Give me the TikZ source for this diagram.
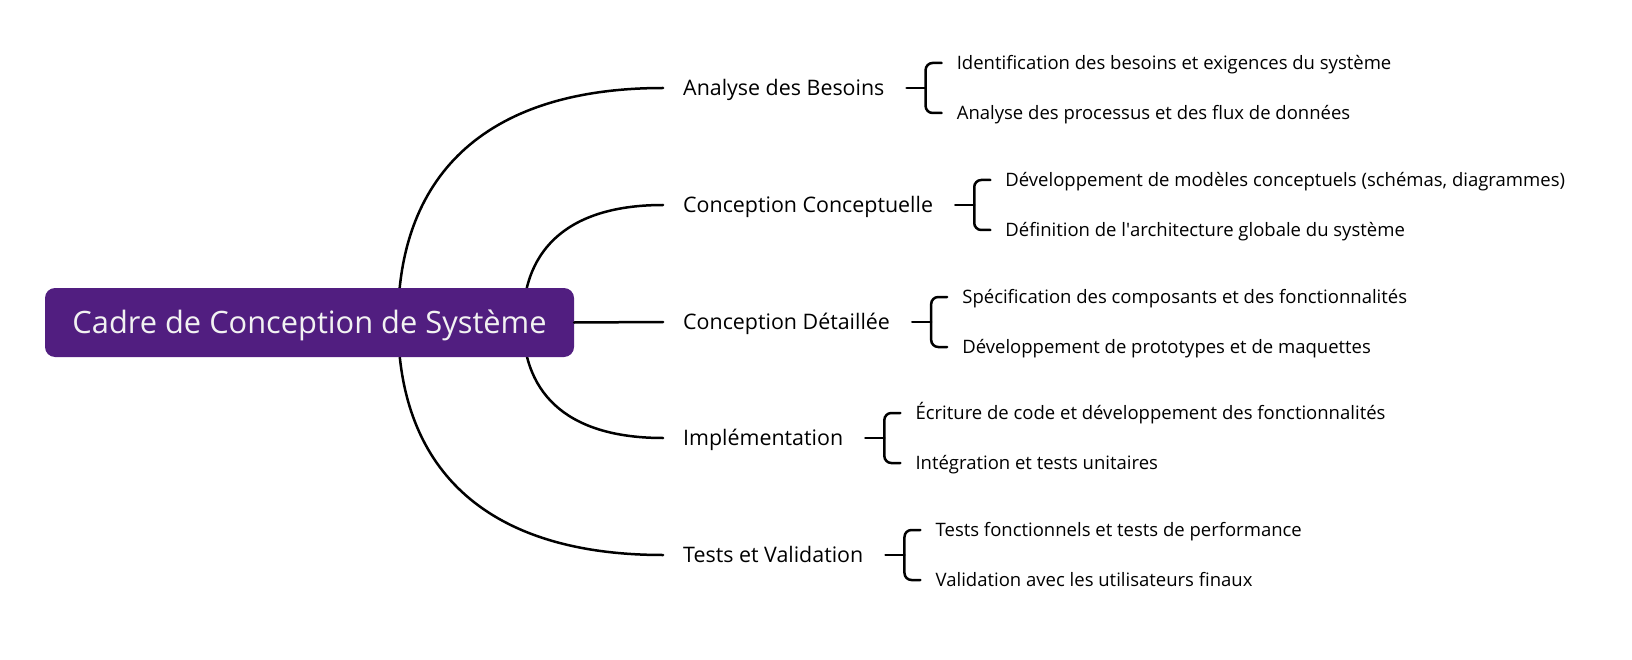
\documentclass[tikz,border=0pt]{standalone}
\usepackage{fontspec}
\setmainfont{Open Sans}
\usetikzlibrary{positioning}
\definecolor{rootpurple}{RGB}{81,30,128}

\begin{document}
\begin{tikzpicture}[x=1pt,y=-1pt,
  rootbox/.style={fill=rootpurple,text=white!95!black,rounded corners=10pt,
    minimum width=529pt,minimum height=69pt,inner sep=0pt,
    text height=22pt,text depth=0pt,
    font=\fontsize{30.8}{36}\selectfont},
  topic/.style={anchor=west,inner sep=0pt,text height=15.3pt,text depth=0pt,
    font=\fontsize{21.4}{26}\selectfont},
  leaf/.style={anchor=west,inner sep=0pt,text height=13.2pt,text depth=0pt,
    font=\fontsize{18.5}{22}\selectfont},
  link/.style={line width=2.5pt,line cap=round},
  bracket/.style={link,rounded corners=7pt},
]
\useasboundingbox (0,0) rectangle (1632,660);

% main topics
\node[topic] (analyse) at (683,88) {Analyse des Besoins};
\node[topic] (concept) at (683,205) {Conception Conceptuelle};
\node[topic] (detail) at (683,322) {Conception Détaillée};
\node[topic] (impl) at (683,438) {Implémentation};
\node[topic] (tests) at (683,555) {Tests et Validation};

% sub topics
\node[leaf] (analyseA) at ([xshift=72pt,yshift=25pt]analyse.east) {Identification des besoins et exigences du système};
\node[leaf] (analyseB) at ([xshift=72pt,yshift=-25pt]analyse.east) {Analyse des processus et des flux de données};
\node[leaf] (conceptA) at ([xshift=72pt,yshift=25pt]concept.east) {Développement de modèles conceptuels (schémas, diagrammes)};
\node[leaf] (conceptB) at ([xshift=72pt,yshift=-25pt]concept.east) {Définition de l\textquotesingle architecture globale du système};
\node[leaf] (detailA) at ([xshift=72pt,yshift=25pt]detail.east) {Spécification des composants et des fonctionnalités};
\node[leaf] (detailB) at ([xshift=72pt,yshift=-25pt]detail.east) {Développement de prototypes et de maquettes};
\node[leaf] (implA) at ([xshift=72pt,yshift=25pt]impl.east) {Écriture de code et développement des fonctionnalités};
\node[leaf] (implB) at ([xshift=72pt,yshift=-25pt]impl.east) {Intégration et tests unitaires};
\node[leaf] (testsA) at ([xshift=72pt,yshift=25pt]tests.east) {Tests fonctionnels et tests de performance};
\node[leaf] (testsB) at ([xshift=72pt,yshift=-25pt]tests.east) {Validation avec les utilisateurs finaux};

% brackets
\foreach \t in {analyse,concept,detail,impl,tests}{
  \draw[link] ([xshift=22pt]\t.east) -- ([xshift=41pt]\t.east);
  \draw[bracket] ([xshift=-15pt]\t A.west) -- ([xshift=-31pt]\t A.west)
    -- ([xshift=-31pt]\t B.west) -- ([xshift=-15pt]\t B.west);
}

% curved branches from the root
\coordinate (outer) at (398,322);
\coordinate (inner) at (523,322);
\draw[link] (outer) .. controls (398,170) and (491,88) .. ([xshift=-20pt]analyse.west);
\draw[link] (inner) .. controls (523,246) and (572,205) .. ([xshift=-20pt]concept.west);
\draw[link] (inner) .. controls (523,398) and (572,438) .. ([xshift=-20pt]impl.west);
\draw[link] (outer) .. controls (398,474) and (491,555) .. ([xshift=-20pt]tests.west);

% root
\node[rootbox] (root) at (309.5,322.5) {Cadre de Conception de Système};
\draw[link] (root.east) -- ([xshift=-20pt]detail.west);

\end{tikzpicture}
\end{document}
